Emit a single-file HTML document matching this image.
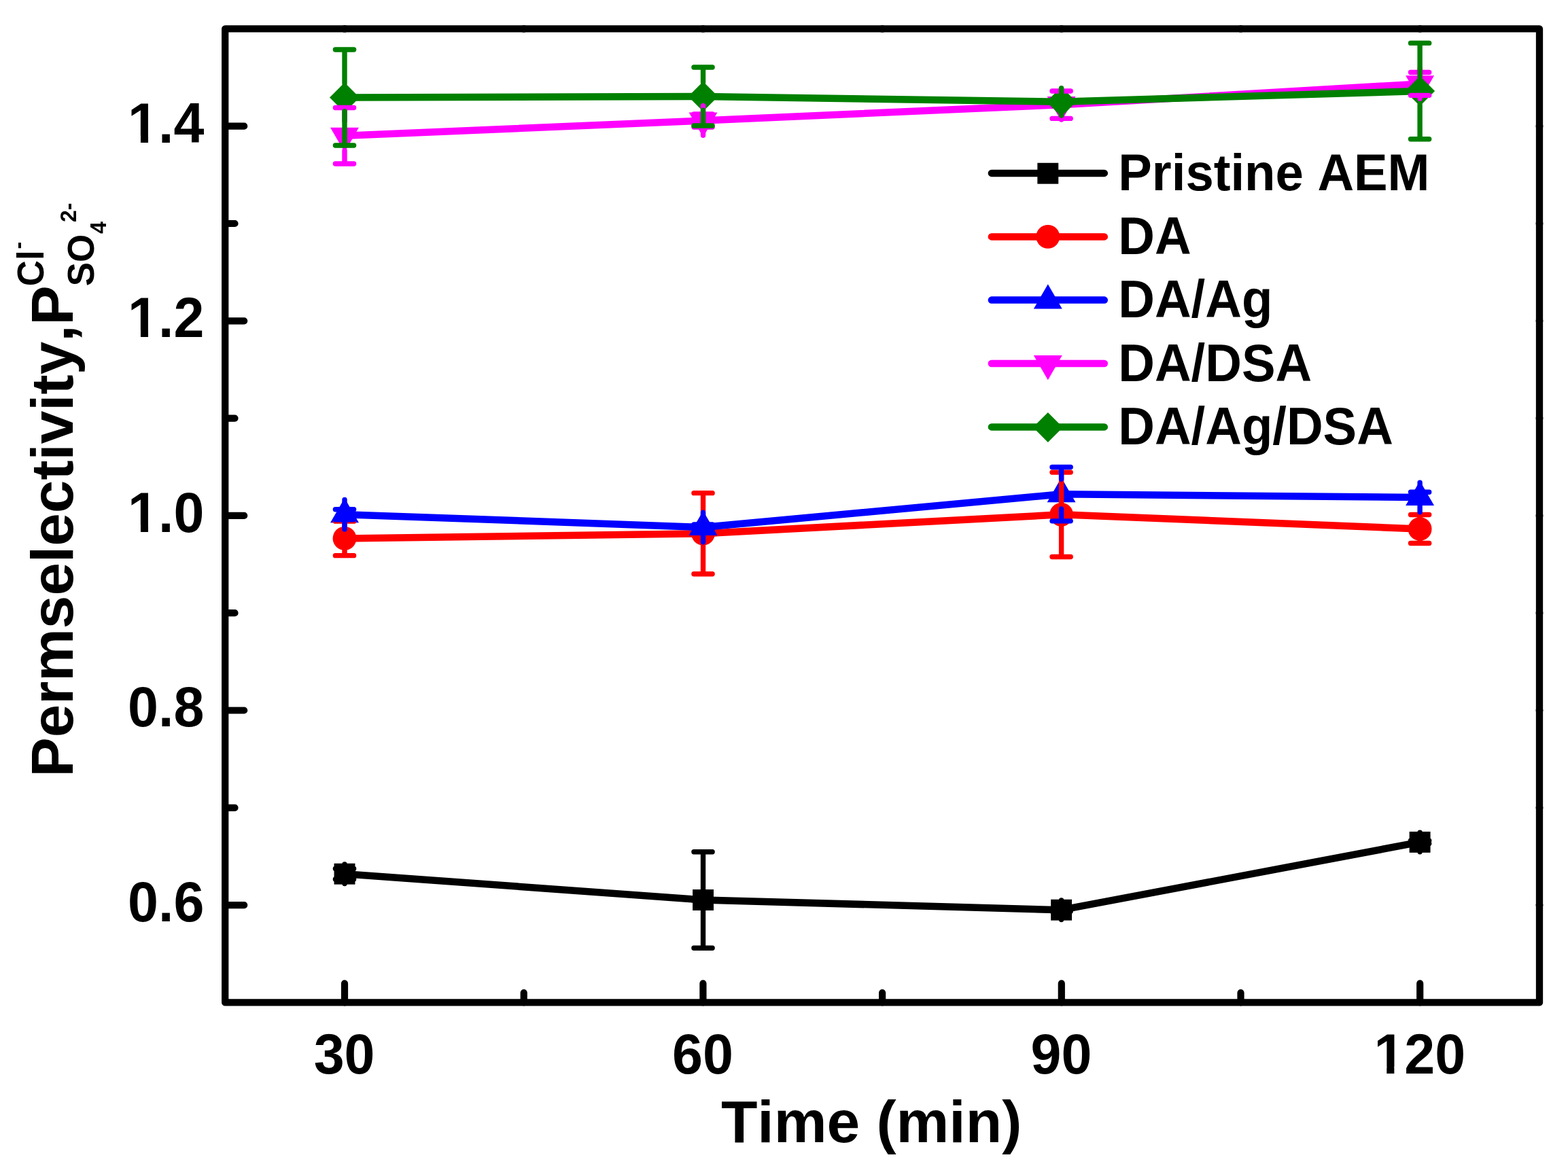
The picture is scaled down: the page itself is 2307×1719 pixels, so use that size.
<!DOCTYPE html>
<html lang="en"><head><meta charset="utf-8">
<style>html,body{margin:0;padding:0;background:#fff}body{width:2307px;height:1719px}svg{display:block}text{font-family:'Liberation Sans',Arial,Helvetica,sans-serif;font-weight:bold;font-kerning:none;fill:#000}</style>
</head><body>
<svg width="2307" height="1719" viewBox="0 0 2307 1719">
<rect x="0" y="0" width="2307" height="1719" fill="#ffffff"/>
<g id="axes" fill="none" stroke="#000" stroke-linecap="round" stroke-linejoin="round">
<rect x="331.2" y="42.4" width="1933.8" height="1433" stroke-width="10.3"/>
<path d="M331.2 1332.1h28M331.2 1188.8h14.3M331.2 1045.5h28M331.2 902.2h14.3M331.2 758.9h28M331.2 615.6h14.3M331.2 472.3h28M331.2 329h14.3M331.2 185.7h28M507 1475.4v-28M770.7 1475.4v-14.3M1034.4 1475.4v-28M1298.1 1475.4v-14.3M1561.8 1475.4v-28M1825.5 1475.4v-14.3M2089.2 1475.4v-28" stroke-width="10.2"/>
<path d="M2265 1332.1h0M2265 1188.8h0M2265 1045.5h0M2265 902.2h0M2265 758.9h0M2265 615.6h0M2265 472.3h0M2265 329h0M2265 185.7h0M507 42.4h0M770.7 42.4h0M1034.4 42.4h0M1298.1 42.4h0M1561.8 42.4h0M1825.5 42.4h0M2089.2 42.4h0" stroke-width="10.9"/>
</g>
<g id="series">
<polyline points="507,1286.2 1034.5,1324.5 1561.6,1339.2 2089.1,1239.4" fill="none" stroke="#000000" stroke-width="10.5" stroke-linejoin="round" stroke-linecap="round"/>
<rect x="491.55" y="1270.75" width="30.9" height="30.9" fill="#000000"/>
<rect x="1019.05" y="1309.05" width="30.9" height="30.9" fill="#000000"/>
<rect x="1546.15" y="1323.75" width="30.9" height="30.9" fill="#000000"/>
<rect x="2073.65" y="1223.95" width="30.9" height="30.9" fill="#000000"/>
<polyline points="507,792.4 1034.5,785.2 1561.6,757.3 2089.1,778.5" fill="none" stroke="#ff0000" stroke-width="10.5" stroke-linejoin="round" stroke-linecap="round"/>
<circle cx="507" cy="792.4" r="17.4" fill="#ff0000"/>
<circle cx="1034.5" cy="785.2" r="17.4" fill="#ff0000"/>
<circle cx="1561.6" cy="757.3" r="17.4" fill="#ff0000"/>
<circle cx="2089.1" cy="778.5" r="17.4" fill="#ff0000"/>
<polyline points="507,757.2 1034.5,776 1561.6,727.2 2089.1,732" fill="none" stroke="#0000ff" stroke-width="10.5" stroke-linejoin="round" stroke-linecap="round"/>
<polygon points="507,732.95 527.95,769.3 486.05,769.3" fill="#0000ff"/>
<polygon points="1034.5,751.75 1055.45,788.1 1013.55,788.1" fill="#0000ff"/>
<polygon points="1561.6,702.95 1582.55,739.3 1540.65,739.3" fill="#0000ff"/>
<polygon points="2089.1,707.75 2110.05,744.1 2068.15,744.1" fill="#0000ff"/>
<polyline points="507,199.75 1034.5,177.5 1561.6,154.2 2089.1,123.4" fill="none" stroke="#ff00ff" stroke-width="10.5" stroke-linejoin="round" stroke-linecap="round"/>
<polygon points="507,224 527.95,187.65 486.05,187.65" fill="#ff00ff"/>
<polygon points="1034.5,201.75 1055.45,165.4 1013.55,165.4" fill="#ff00ff"/>
<polygon points="1561.6,178.45 1582.55,142.1 1540.65,142.1" fill="#ff00ff"/>
<polygon points="2089.1,147.65 2110.05,111.3 2068.15,111.3" fill="#ff00ff"/>
<polyline points="507,143.5 1034.5,142 1561.6,149.8 2089.1,134.1" fill="none" stroke="#008000" stroke-width="10.5" stroke-linejoin="round" stroke-linecap="round"/>
<polygon points="507,121.5 529,143.5 507,165.5 485,143.5" fill="#008000"/>
<polygon points="1034.5,120 1056.5,142 1034.5,164 1012.5,142" fill="#008000"/>
<polygon points="1561.6,127.8 1583.6,149.8 1561.6,171.8 1539.6,149.8" fill="#008000"/>
<polygon points="2089.1,112.1 2111.1,134.1 2089.1,156.1 2067.1,134.1" fill="#008000"/>
</g>
<g id="errors" fill="none" stroke-linecap="round">
<path d="M507 1271.9V1278.45M507 1300.5V1293.95M493.4 1278.45h27.2M493.4 1293.95h27.2M1034.5 1310.2V1253.8M1034.5 1338.8V1395.2M1020.9 1253.8h27.2M1020.9 1395.2h27.2M1561.6 1324.9V1337.2M1561.6 1353.5V1341.2M1548 1337.2h27.2M1548 1341.2h27.2M2089.1 1225.1V1237.25M2089.1 1253.7V1241.55M2075.5 1237.25h27.2M2075.5 1241.55h27.2" stroke="#000000" stroke-width="7.4"/>
<path d="M507 776.4V767.15M507 808.4V817.65M493.4 767.15h27.2M493.4 817.65h27.2M1034.5 769.2V725.65M1034.5 801.2V844.75M1020.9 725.65h27.2M1020.9 844.75h27.2M1561.6 741.3V695.1M1561.6 773.3V819.5M1548 695.1h27.2M1548 819.5h27.2M2089.1 762.5V757.55M2089.1 794.5V799.45M2075.5 757.55h27.2M2075.5 799.45h27.2" stroke="#ff0000" stroke-width="7.4"/>
<path d="M507 735.35V749.7M507 779.05V764.7M493.4 749.7h27.2M493.4 764.7h27.2M1034.5 754.15V772M1034.5 797.85V780M1020.9 772h27.2M1020.9 780h27.2M1561.6 705.35V687.55M1561.6 749.05V766.85M1548 687.55h27.2M1548 766.85h27.2M2089.1 710.15V724.2M2089.1 753.85V739.8M2075.5 724.2h27.2M2075.5 739.8h27.2" stroke="#0000ff" stroke-width="7.4"/>
<path d="M507 177.9V158.5M507 221.6V241M493.4 158.5h27.2M493.4 241h27.2M1034.5 155.65V168M1034.5 199.35V187M1020.9 168h27.2M1020.9 187h27.2M1561.6 132.35V134M1561.6 176.05V174.4M1548 134h27.2M1548 174.4h27.2M2089.1 101.55V106.45M2089.1 145.25V140.35M2075.5 106.45h27.2M2075.5 140.35h27.2" stroke="#ff00ff" stroke-width="7.4"/>
<path d="M507 123.3V73M507 163.7V214M493.4 73h27.2M493.4 214h27.2M1034.5 121.8V99M1034.5 162.2V185M1020.9 99h27.2M1020.9 185h27.2M1561.6 129.6V147.8M1561.6 170V151.8M1548 147.8h27.2M1548 151.8h27.2M2089.1 113.9V63.4M2089.1 154.3V204.8M2075.5 63.4h27.2M2075.5 204.8h27.2" stroke="#008000" stroke-width="7.4"/>
</g>
<g id="legend">
<line x1="1458.9" y1="254.9" x2="1624.8" y2="254.9" stroke="#000000" stroke-width="10.5" stroke-linecap="round"/>
<rect x="1526.35" y="239.75" width="30.9" height="30.9" fill="#000000"/>
<text transform="translate(1645.3 280.1) scale(1 1.0200)" font-size="74.3" text-anchor="start">Pristine AEM</text>
<line x1="1458.9" y1="348.4" x2="1624.8" y2="348.4" stroke="#ff0000" stroke-width="10.5" stroke-linecap="round"/>
<circle cx="1541.8" cy="348.4" r="17.4" fill="#ff0000"/>
<text transform="translate(1645.3 373.6) scale(1 1.0400)" font-size="74.3" text-anchor="start">DA</text>
<line x1="1458.9" y1="441.6" x2="1624.8" y2="441.6" stroke="#0000ff" stroke-width="10.5" stroke-linecap="round"/>
<polygon points="1541.8,418.15 1562.75,454.5 1520.85,454.5" fill="#0000ff"/>
<text transform="translate(1645.3 467.1) scale(1 1.0400)" font-size="74.3" text-anchor="start">DA/Ag</text>
<line x1="1458.9" y1="535" x2="1624.8" y2="535" stroke="#ff00ff" stroke-width="10.5" stroke-linecap="round"/>
<polygon points="1541.8,559.3 1562.75,522.95 1520.85,522.95" fill="#ff00ff"/>
<text transform="translate(1645.3 560.6) scale(1 1.0400)" font-size="74.3" text-anchor="start">DA/DSA</text>
<line x1="1458.9" y1="628.4" x2="1624.8" y2="628.4" stroke="#008000" stroke-width="10.5" stroke-linecap="round"/>
<polygon points="1541.8,606.9 1563.8,628.9 1541.8,650.9 1519.8,628.9" fill="#008000"/>
<text transform="translate(1645.3 654.1) scale(1 1.0400)" font-size="74.3" text-anchor="start">DA/Ag/DSA</text>
</g>
<g id="ticklabels">
<text transform="translate(300.4 1355.9) scale(1 1.0350)" font-size="80.8" text-anchor="end">0.6</text>
<text transform="translate(300.4 1069.3) scale(1 1.0350)" font-size="80.8" text-anchor="end">0.8</text>
<text transform="translate(300.4 782.7) scale(1 1.0350)" font-size="80.8" text-anchor="end">1.0</text>
<rect x="191.67" y="772.67" width="15.27" height="11.53" fill="#fff"/><rect x="218.02" y="772.67" width="14.24" height="11.53" fill="#fff"/>
<text transform="translate(300.4 496.1) scale(1 1.0350)" font-size="80.8" text-anchor="end">1.2</text>
<rect x="191.67" y="486.07" width="15.27" height="11.53" fill="#fff"/><rect x="218.02" y="486.07" width="14.24" height="11.53" fill="#fff"/>
<text transform="translate(300.4 209.5) scale(1 1.0350)" font-size="80.8" text-anchor="end">1.4</text>
<rect x="191.67" y="199.47" width="15.27" height="11.53" fill="#fff"/><rect x="218.02" y="199.47" width="14.24" height="11.53" fill="#fff"/>
<text transform="translate(506.6 1579.9) scale(1 1.0350)" font-size="80.8" text-anchor="middle">30</text>
<text transform="translate(1034 1579.9) scale(1 1.0350)" font-size="80.8" text-anchor="middle">60</text>
<text transform="translate(1561.4 1579.9) scale(1 1.0350)" font-size="80.8" text-anchor="middle">90</text>
<text transform="translate(2088.8 1579.9) scale(1 1.0350)" font-size="80.8" text-anchor="middle">120</text>
<rect x="2024.98" y="1569.87" width="15.27" height="11.53" fill="#fff"/><rect x="2051.34" y="1569.87" width="14.24" height="11.53" fill="#fff"/>
</g>
<g id="titles">
<text transform="translate(1060.9 1680.7)" font-size="87.5" text-anchor="start">Time (min)</text>
<g transform="translate(107 1143.6) rotate(-90)">
<text x="0" y="0" font-size="87.33">Permselectivity,P</text>
<text transform="translate(722.3 -42.9) scale(1 1.035)" font-size="53">Cl</text>
<text transform="translate(777 -68.6) scale(1 1.035)" font-size="32.1">-</text>
<text transform="translate(722.3 31.3) scale(1 1.035)" font-size="53">SO</text>
<text transform="translate(799.6 49.1) scale(1 1.035)" font-size="32.1">4</text>
<text transform="translate(816.6 4.9) scale(1 1.035)" font-size="32.1">2-</text>
</g>
</g>
</svg>
</body></html>
